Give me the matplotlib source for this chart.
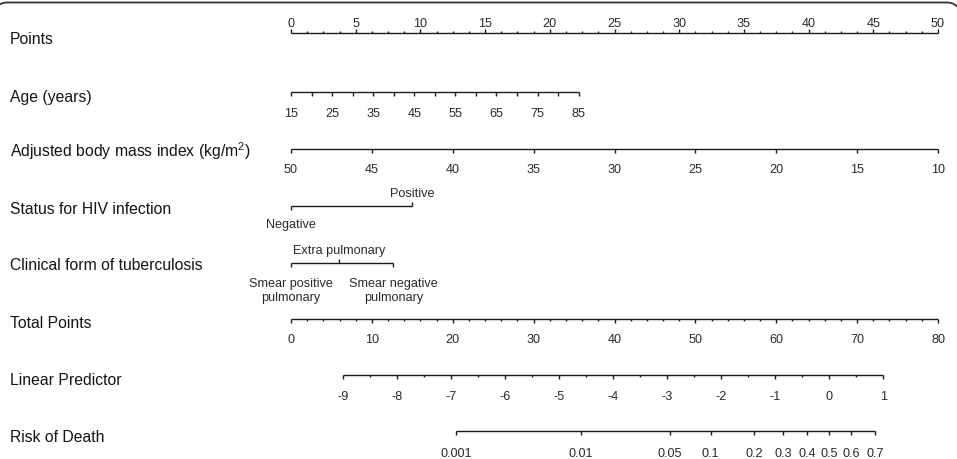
import numpy as np
import matplotlib
matplotlib.use("Agg")
import matplotlib.pyplot as plt
from matplotlib.transforms import blended_transform_factory

plt.rcParams['font.family'] = ['Liberation Sans', 'DejaVu Sans']
plt.rcParams['mathtext.default'] = 'regular'

# ---------------- data ----------------
row_labels = ["Points", "Age (years)", "Adjusted body mass index (kg/m$^{2}$)",
              "Status for HIV infection", "Clinical form of tuberculosis",
              "Total Points", "Linear Predictor", "Risk of Death"]

points_ticks = [0, 5, 10, 15, 20, 25, 30, 35, 40, 45, 50]
points_minor_step = 1.25

age_ticks = [15, 20, 25, 30, 35, 40, 45, 50, 55, 60, 65, 70, 75, 80, 85]
age_labels = [15, 25, 35, 45, 55, 65, 75, 85]
age_range = [15, 85]
age_points_range = [0.0, 22.23]

bmi_ticks = [50, 45, 40, 35, 30, 25, 20, 15, 10]
bmi_range = [50, 10]
bmi_points_range = [0.0, 50.0]

hiv_levels = ["Negative", "Positive"]
hiv_points = [0.0, 9.37]

tb_levels = [["Smear positive", "pulmonary"], ["Extra pulmonary"], ["Smear negative", "pulmonary"]]
tb_points = [0.0, 3.72, 7.91]

total_ticks = [0, 10, 20, 30, 40, 50, 60, 70, 80]
total_minor_step = 2
total_max = 80

lp_ticks = [-9, -8, -7, -6, -5, -4, -3, -2, -1, 0, 1]
lp_minor_step = 0.5
lp_intercept_tp = 66.55   # total points at linear predictor 0
lp_slope_tp = 6.68        # total points per unit linear predictor

risk_ticks = [0.001, 0.01, 0.05, 0.1, 0.2, 0.3, 0.4, 0.5, 0.6, 0.7]
risk_labels = ["0.001", "0.01", "0.05", "0.1", "0.2", "0.3", "0.4", "0.5", "0.6", "0.7"]

# ---------------- mappings to the Points scale ----------------
def age_to_pts(a):
    a = np.asarray(a, float)
    return age_points_range[0] + (a - age_range[0]) / (age_range[1] - age_range[0]) * (age_points_range[1] - age_points_range[0])

def bmi_to_pts(b):
    b = np.asarray(b, float)
    return bmi_points_range[0] + (b - bmi_range[0]) / (bmi_range[1] - bmi_range[0]) * (bmi_points_range[1] - bmi_points_range[0])

def total_to_pts(t):
    return np.asarray(t, float) * points_ticks[-1] / total_max

def lp_to_pts(lp):
    return total_to_pts(lp_intercept_tp + lp_slope_tp * np.asarray(lp, float))

def risk_to_pts(p):
    p = np.asarray(p, float)
    return lp_to_pts(np.log(p / (1 - p)))

# ---------------- figure ----------------
W, H = 957, 460
fig = plt.figure(figsize=(W / 100, H / 100), dpi=100)

# frame layer in pixel units
fax = fig.add_axes([0, 0, 1, 1])
fax.set_xlim(0, W)
fax.set_ylim(H, 0)
fax.axis('off')

ax = fig.add_axes([0, 0, 1, 1])
ppu = (938 - 291) / 50.0
ax.set_xlim(-291 / ppu, (W - 291) / ppu)
ax.set_ylim(H, 0)
ax.axis('off')

LC = '#1a1a1a'
TC = '#2a2a2a'
LW = 1.0
TICK_FS = 9.1
ROW_FS = 11.3
MAJ = 4.0
MIN = 2.0

def hline(y, x0, x1):
    ax.plot([x0, x1], [y, y], color=LC, lw=LW, solid_capstyle='butt')

def ticks(y, xs, length, up=False):
    for x in np.atleast_1d(xs):
        y2 = y - length if up else y + length
        ax.plot([x, x], [y, y2], color=LC, lw=LW, solid_capstyle='butt')

def tlabel(x, y, s):
    ax.text(x, y, str(s), ha='center', va='baseline', fontsize=TICK_FS, color=TC)

def tlabels(y, xs, labels, dy):
    for x, s in zip(np.atleast_1d(xs), labels):
        tlabel(x, y + dy, s)

row_y = [34, 93.3, 150, 207, 263.5, 320, 376, 432.3]
label_tr = blended_transform_factory(fig.transFigure, ax.transData)
row_dy = [10.3, 8.4, 7.5, 7.2, 7.0, 8.3, 9.0, 9.4]
for lab, y, dy in zip(row_labels, row_y, row_dy):
    ax.text(10 / W, y + dy, lab, transform=label_tr, ha='left', va='baseline',
            fontsize=ROW_FS, color='#141414')

# Points
y = row_y[0]
px = np.array(points_ticks, float)
hline(y, px[0], px[-1])
ticks(y, px, MAJ, up=True)
minor = np.arange(px[0], px[-1] + 1e-9, points_minor_step)
ticks(y, [m for m in minor if not np.any(np.isclose(m, px))], 1.6, up=True)
tlabels(y, px, points_ticks, -7.3)

# Age
y = row_y[1]
ax_ = age_to_pts(age_ticks)
hline(y, ax_[0], ax_[-1])
ticks(y, ax_, MAJ)
tlabels(y, age_to_pts(age_labels), age_labels, 23.4)

# BMI
y = row_y[2]
bx = bmi_to_pts(bmi_ticks)
hline(y, bx.min(), bx.max())
ticks(y, bx, MAJ)
tlabels(y, bx, bmi_ticks, 23.3)

# HIV
y = row_y[3]
hline(y, min(hiv_points), max(hiv_points))
ticks(y, [hiv_points[0]], MAJ)
ticks(y, [hiv_points[1]], MAJ, up=True)
tlabel(hiv_points[0], y + 21.4, hiv_levels[0])
tlabel(hiv_points[1], y - 10.3, hiv_levels[1])

# Clinical form
y = row_y[4]
hline(y, min(tb_points), max(tb_points))
for i, (xp, lines) in enumerate(zip(tb_points, tb_levels)):
    if i % 2 == 0:
        ticks(y, [xp], MAJ)
        for k, s in enumerate(lines):
            tlabel(xp, y + 24 + 13.8 * k, s)
    else:
        ticks(y, [xp], MAJ, up=True)
        tlabel(xp, y - 9.5, lines[0])

# Total points
y = row_y[5]
tx = total_to_pts(total_ticks)
hline(y, tx[0], tx[-1])
ticks(y, tx, MAJ)
tmin = np.arange(total_ticks[0], total_ticks[-1] + 1e-9, total_minor_step)
tmin = [m for m in tmin if m not in total_ticks]
ticks(y, total_to_pts(tmin), MIN)
tlabels(y, tx, total_ticks, 23.3)

# Linear predictor
y = row_y[6]
lx = lp_to_pts(lp_ticks)
hline(y, lx[0], lx[-1])
ticks(y, lx, MAJ)
lmin = np.arange(lp_ticks[0], lp_ticks[-1] + 1e-9, lp_minor_step)
lmin = [m for m in lmin if not np.isclose(m, np.round(m))]
ticks(y, lp_to_pts(lmin), MIN)
tlabels(y, lx, lp_ticks, 24)

# Risk of death
y = row_y[7]
rx = risk_to_pts(risk_ticks)
hline(y, rx[0], rx[-1])
ticks(y, rx, MAJ)
tlabels(y, rx, risk_labels, 25)

# Rounded frame: top edge with rounded corners (sides fall outside the picture)
R = 15
fx0, fx1, ftop = -8, 962, 3.5
t = np.linspace(0, np.pi / 2, 40)
left_arc_x = (fx0 + R) - R * np.cos(t)
left_arc_y = (ftop + R) - R * np.sin(t)
right_arc_x = (fx1 - R) + R * np.sin(t)
right_arc_y = (ftop + R) - R * np.cos(t)
frame_x = np.concatenate([[fx0], left_arc_x, right_arc_x, [fx1]])
frame_y = np.concatenate([[H + 20], left_arc_y, right_arc_y, [H + 20]])
fax.plot(frame_x, frame_y, color='#333333', lw=1.3, clip_on=False)

fig.savefig("out.png", dpi=100)
